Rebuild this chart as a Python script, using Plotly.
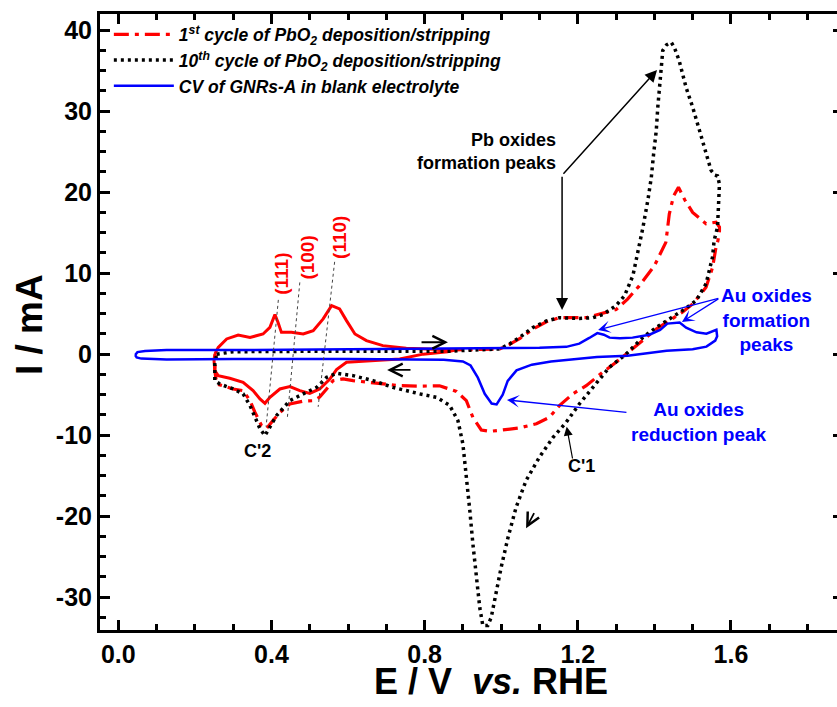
import plotly.graph_objects as go

# ---------------- data (E / V vs. RHE, I / mA) ----------------
# Pb UPD region (red solid loop)
upd_E = [0.252, 0.261, 0.283, 0.313, 0.344, 0.378, 0.396, 0.409, 0.417, 0.426, 0.452, 0.483,
         0.509, 0.535, 0.557, 0.578, 0.596, 0.618, 0.648, 0.691, 0.752, 0.805, 0.86, 0.88,
         0.86, 0.82, 0.796, 0.735, 0.648, 0.596, 0.570, 0.552, 0.526, 0.500, 0.474, 0.448,
         0.422, 0.396, 0.383, 0.370, 0.352, 0.326, 0.291, 0.261, 0.252, 0.250, 0.252]
upd_I = [0.0, 0.84, 1.88, 2.37, 2.07, 2.49, 3.31, 4.88, 3.93, 2.69, 2.69, 2.49,
         2.9, 4.35, 5.99, 5.58, 4.14, 2.49, 1.67, 1.05, 0.72, 0.64, 0.6, 0.5,
         0.3, 0.1, 0.0, -0.6, -0.8, -1.0, -1.9, -3.1, -4.3, -4.84, -4.5, -4.0,
         -4.3, -5.33, -6.07, -5.53, -4.5, -3.48, -2.98, -2.65, -2.04, -0.8, 0.0]

# 1st cycle of PbO2 deposition/stripping (red dash-dot)
c1_E = [0.86, 0.92, 0.996, 1.022, 1.048, 1.083, 1.118, 1.152, 1.19, 1.222, 1.257, 1.30,
        1.33, 1.36, 1.40, 1.43, 1.439, 1.45, 1.463, 1.48, 1.50, 1.535, 1.561, 1.570,
        1.570, 1.566, 1.561, 1.552, 1.535, 1.50, 1.474, 1.439, 1.405, 1.379, 1.35, 1.326,
        1.300, 1.266, 1.222, 1.187, 1.152, 1.126, 1.092, 1.048, 1.004, 0.970, 0.948, 0.926,
        0.909, 0.883, 0.839, 0.787, 0.735, 0.691, 0.648, 0.613, 0.587, 0.561, 0.544, 0.526,
        0.509, 0.483, 0.448, 0.422, 0.404, 0.387, 0.374, 0.357, 0.344, 0.326, 0.300, 0.257,
        0.252, 0.255]
c1_I = [0.5, 0.55, 0.64, 1.2, 1.9, 3.1, 4.0, 4.5, 4.5, 4.5, 4.96, 5.5,
        6.8, 8.4, 10.9, 13.8, 17.3, 19.5, 20.6, 19.0, 17.5, 16.1, 16.3, 15.7,
        15.2, 14.0, 13.2, 10.7, 8.25, 6.2, 5.2, 4.1, 3.1, 2.07, 1.0, 0.0,
        -1.0, -2.2, -3.9, -4.9, -6.36, -7.8, -8.6, -9.1, -9.36, -9.53, -9.36, -7.8,
        -5.74, -4.6, -3.9, -3.95, -3.89, -3.68, -3.48, -3.27, -3.05, -3.27, -4.3, -5.3,
        -5.75, -5.8, -6.15, -7.2, -8.2, -9.2, -8.8, -7.2, -5.74, -4.5, -4.3, -3.68,
        -2.0, 0.0]

# 10th cycle of PbO2 deposition/stripping (black dotted)
c10_E = [0.257, 0.3, 0.5, 0.7, 0.8, 0.86, 0.9, 0.95, 0.996, 1.022, 1.048, 1.083,
         1.118, 1.152, 1.204, 1.24, 1.266, 1.30, 1.322, 1.344, 1.361, 1.370, 1.383, 1.392,
         1.398, 1.405, 1.409, 1.413, 1.418, 1.422, 1.432, 1.444, 1.452, 1.465, 1.483, 1.50,
         1.518, 1.535, 1.548, 1.558, 1.565, 1.570, 1.568, 1.565, 1.556, 1.552, 1.535, 1.509,
         1.474, 1.439, 1.405, 1.370, 1.326, 1.283, 1.239, 1.204, 1.170, 1.135, 1.100, 1.065,
         1.039, 1.018, 1.0, 0.987, 0.974, 0.965, 0.952, 0.944, 0.935, 0.926, 0.918, 0.909,
         0.900, 0.887, 0.865, 0.831, 0.787, 0.717, 0.665, 0.613, 0.570, 0.544, 0.518, 0.483,
         0.448, 0.413, 0.396, 0.383, 0.370, 0.357, 0.344, 0.326, 0.300, 0.265, 0.252, 0.252,
         0.257]
c10_I = [0.0, 0.3, 0.35, 0.3, 0.3, 0.35, 0.45, 0.55, 0.64, 1.26, 2.07, 3.3,
         4.1, 4.5, 4.4, 4.5, 4.9, 6.0, 7.2, 9.7, 13.4, 15.6, 19.0, 21.8,
         24.7, 27.6, 30.5, 32.9, 35.0, 37.5, 38.2, 38.5, 37.9, 36.2, 32.9, 30.5,
         27.6, 24.7, 22.7, 22.1, 22.0, 21.0, 18.1, 15.7, 14.0, 12.0, 8.7, 6.6,
         5.4, 4.35, 3.3, 2.07, 0.0, -1.6, -4.1, -6.15, -8.4, -10.3, -12.7, -15.6,
         -18.9, -22.6, -26.3, -29.6, -32.5, -33.5, -33.5, -31.3, -27.6, -23.4, -19.3, -14.8,
         -11.1, -8.2, -6.3, -5.33, -4.9, -4.1, -3.27, -2.65, -2.37, -2.86, -4.1, -4.9,
         -5.74, -7.6, -9.0, -10.06, -9.2, -7.8, -6.36, -4.9, -4.3, -3.68, -3.27, -1.2,
         0.0]

# CV of GNRs-A in blank electrolyte (blue solid)
blank_E = [0.044, 0.05, 0.07, 0.126, 0.3, 0.6, 0.9, 1.1, 1.17, 1.204, 1.23, 1.251,
           1.268, 1.283, 1.31, 1.343, 1.387, 1.415, 1.434, 1.466, 1.483, 1.51, 1.536, 1.552,
           1.562, 1.564, 1.559, 1.536, 1.5, 1.432, 1.33, 1.25, 1.19, 1.13, 1.08, 1.04,
           1.017, 1.004, 0.988, 0.975, 0.957, 0.939, 0.92, 0.90, 0.85, 0.6, 0.3, 0.126,
           0.06, 0.048, 0.044]
blank_I = [-0.1, 0.25, 0.4, 0.5, 0.5, 0.6, 0.7, 0.8, 0.9, 1.3, 2.0, 2.6,
           2.4, 2.04, 1.95, 2.04, 2.4, 3.0, 3.77, 3.9, 3.27, 2.7, 2.53, 2.8,
           3.0, 2.2, 1.67, 0.93, 0.6, 0.43, -0.2, -0.35, -0.6, -0.9, -1.3, -2.0,
           -3.3, -5.0, -6.2, -6.1, -4.9, -2.9, -1.4, -0.9, -0.7, -0.6, -0.6, -0.65,
           -0.55, -0.4, -0.1]

x_ticks = [0.0, 0.4, 0.8, 1.2, 1.6]
x_ticklabels = ["0.0", "0.4", "0.8", "1.2", "1.6"]
y_ticks = [-30, -20, -10, 0, 10, 20, 30, 40]
y_ticklabels = ["-30", "-20", "-10", "0", "10", "20", "30", "40"]

legend_names = ["1<sup>st</sup> cycle of PbO<sub>2</sub> deposition/stripping",
                "10<sup>th</sup> cycle of PbO<sub>2</sub> deposition/stripping",
                "CV of GNRs-A in blank electrolyte"]

RED = "#FF0000"
BLUE = "#0000FF"
FONT = "Liberation Sans, Arial, Helvetica, sans-serif"

fig = go.Figure()
fig.add_trace(go.Scatter(x=upd_E, y=upd_I, mode="lines", showlegend=False,
                         line=dict(color=RED, width=3), hoverinfo="skip"))
fig.add_trace(go.Scatter(x=c1_E, y=c1_I, mode="lines", name=legend_names[0],
                         line=dict(color=RED, width=3.2, dash="15px,6px,4px,6px")))
fig.add_trace(go.Scatter(x=c10_E, y=c10_I, mode="lines", name=legend_names[1],
                         line=dict(color="black", width=3.5, dash="3px,4px")))
fig.add_trace(go.Scatter(x=blank_E, y=blank_I, mode="lines", name=legend_names[2],
                         line=dict(color=BLUE, width=2.5)))
fig.add_trace(go.Scatter(x=[], y=[], yaxis="y2", showlegend=False))

yr = [-34.06, 42.0]
fig.update_layout(
    width=837, height=707,
    margin=dict(l=100, r=0, t=14, b=77),
    paper_bgcolor="white", plot_bgcolor="white",
    font=dict(family=FONT, color="black"),
    showlegend=True,
    legend=dict(x=0.012, y=0.996, xanchor="left", yanchor="top",
                bgcolor="rgba(0,0,0,0)", borderwidth=0, itemwidth=60,
                tracegroupgap=0,
                font=dict(family=FONT, size=17.5, color="black", weight="bold", style="italic")),
    xaxis=dict(range=[-0.0478, 1.877], tickvals=x_ticks, ticktext=x_ticklabels,
               ticks="inside", ticklen=10, tickwidth=2.5, tickcolor="black",
               showline=True, linewidth=3, linecolor="black", mirror="ticks",
               showgrid=False, zeroline=False,
               tickfont=dict(family=FONT, size=25, color="black", weight="bold"),
               minor=dict(ticks="inside", ticklen=6, tickwidth=2.5, dtick=0.1, tick0=0,
                          tickcolor="black", showgrid=False)),
    yaxis=dict(range=yr, tickvals=y_ticks, ticktext=y_ticklabels,
               ticks="inside", ticklen=10, tickwidth=2.5, tickcolor="black",
               showline=True, linewidth=3, linecolor="black", mirror=False,
               showgrid=False, zeroline=False,
               tickfont=dict(family=FONT, size=25, color="black", weight="bold"),
               minor=dict(ticks="inside", ticklen=6, tickwidth=2.5, dtick=2.5, tick0=0,
                          tickcolor="black", showgrid=False)),
    yaxis2=dict(range=yr, overlaying="y", side="right", tickvals=y_ticks,
                ticks="inside", ticklen=4, tickwidth=2.5, tickcolor="black",
                showticklabels=False, showline=False, showgrid=False, zeroline=False),
)

ann = []
# axis titles
ann.append(dict(text="<b>E / V  <i>vs.</i> RHE</b>", xref="paper", yref="paper",
                x=0.5305, y=-0.083, xanchor="center", yanchor="middle", showarrow=False,
                font=dict(family=FONT, size=36, color="black")))
ann.append(dict(text="<b>I / mA</b>", xref="paper", yref="paper", textangle=-90,
                x=-0.0963, y=0.495, xanchor="center", yanchor="middle", showarrow=False,
                font=dict(family=FONT, size=37, color="black")))

def label(text, x, y, color, size=16, xanchor="center", align="center", angle=0):
    ann.append(dict(text=text, x=x, y=y, xref="x", yref="y", showarrow=False,
                    xanchor=xanchor, yanchor="middle", align=align, textangle=angle,
                    font=dict(family=FONT, size=size, color=color, weight="bold")))

def arrow(x, y, ax, ay, color, width=1.5, head=2, size=1.5):
    ann.append(dict(text="", x=x, y=y, ax=ax, ay=ay, xref="x", yref="y",
                    axref="x", ayref="y", showarrow=True, arrowhead=head,
                    arrowsize=size, arrowwidth=width, arrowcolor=color))

label("Pb oxides<br>formation peaks", 1.148, 24.97, "black", 18, xanchor="right", align="right")
arrow(1.159, 5.46, 1.159, 22.1, "black", 1.5, 2, 1.6)
arrow(1.407, 35.1, 1.159, 22.1, "black", 1.5, 2, 1.6)

label("Au oxides<br>formation<br>peaks", 1.694, 4.2, BLUE, 19)
arrow(1.253, 2.99, 1.571, 6.94, BLUE, 1.3, 3, 1.6)
arrow(1.472, 3.98, 1.571, 6.94, BLUE, 1.3, 3, 1.6)

label("Au oxides<br>reduction peak", 1.516, -8.4, BLUE, 19)
arrow(1.015, -5.65, 1.331, -7.2, BLUE, 1.3, 3, 1.6)

label("C'2", 0.364, -12.0, "black", 18)
label("C'1", 1.211, -13.87, "black", 18)
arrow(1.171, -8.95, 1.187, -13.07, "black", 1.2, 2, 1.5)

label("(111)", 0.427, 9.9, RED, 19, angle=-90)
label("(100)", 0.495, 11.9, RED, 19, angle=-90)
label("(110)", 0.579, 14.35, RED, 19, angle=-90)

arrow(0.861, 1.47, 0.788, 1.47, "black", 1.8, 5, 1.4)
arrow(0.702, -1.95, 0.767, -1.95, "black", 1.8, 5, 1.4)
arrow(1.065, -21.5, 1.088, -19.45, "black", 1.8, 5, 1.4)

fig.update_layout(annotations=ann)

# thin dotted guide lines from facet labels to the cathodic peaks
for (x0, y0, x1, y1) in [(0.418, 6.7, 0.386, -8.95), (0.474, 8.86, 0.441, -8.1),
                         (0.565, 11.4, 0.522, -6.5)]:
    fig.add_shape(type="line", x0=x0, y0=y0, x1=x1, y1=y1, xref="x", yref="y",
                  line=dict(color="#444444", width=1, dash="dot"))

fig.write_html("out.html", config={"displayModeBar": False},
               post_script="document.body.style.margin='0';document.body.style.overflow='hidden';")
